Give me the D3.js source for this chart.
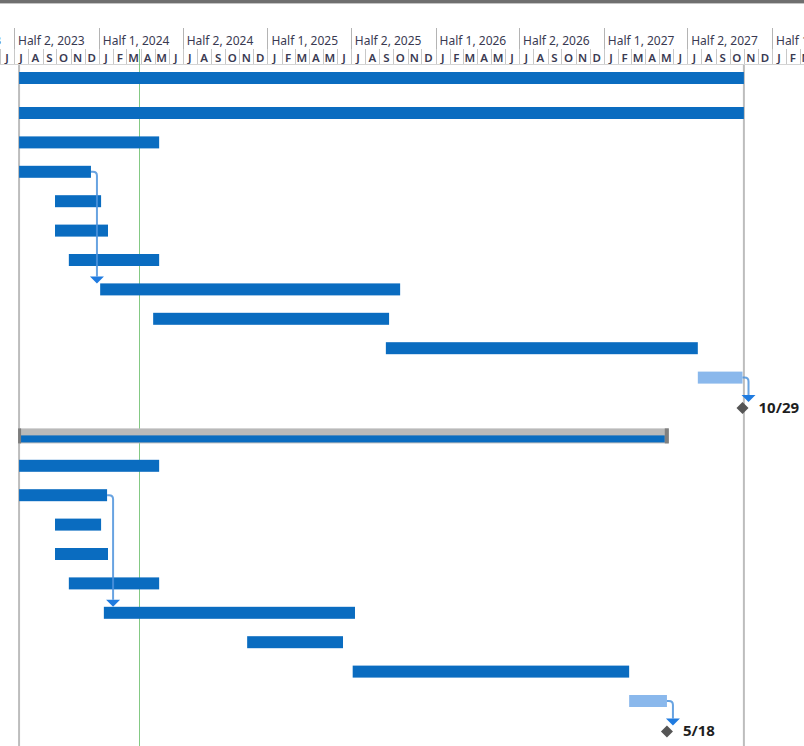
<!DOCTYPE html>
<html>
<head>
<meta charset="utf-8">
<script src="https://cdn.jsdelivr.net/npm/d3@7/dist/d3.min.js"></script>
<style>
  html, body { margin: 0; padding: 0; background: #fff; }
  svg { display: block; }
</style>
</head>
<body>
<svg id="chart" width="804" height="746"></svg>
<script>
// ---------------- DATA ----------------
const taskIds   = [1,2,3,4,5,6,7,8,9,10,11,12,13,14,15,16,17,18,19,20,21,22,23];
const taskType  = ["task","task","task","task","task","task","task","task","task","task","future","milestone",
                   "summary","task","task","task","task","task","task","task","task","future","milestone"];
const taskStart = ["2023-07-12","2023-07-12","2023-07-12","2023-07-12","2023-09-28","2023-09-28","2023-10-28",
                   "2024-01-04","2024-04-28","2025-09-15","2027-07-24","2027-10-29",
                   "2023-07-12","2023-07-12","2023-07-12","2023-09-28","2023-09-28","2023-10-28",
                   "2024-01-12","2024-11-18","2025-07-05","2027-02-25","2027-05-18"];
const taskFinish= ["2027-11-01","2027-11-01","2024-05-11","2023-12-15","2024-01-06","2024-01-21","2024-05-11",
                   "2025-10-16","2025-09-22","2027-07-24","2027-10-29","2027-10-29",
                   "2027-05-22","2024-05-11","2024-01-19","2024-01-06","2024-01-21","2024-05-11",
                   "2025-07-10","2025-06-14","2027-02-25","2027-05-18","2027-05-18"];
const milestoneLabels = {11: "10/29", 22: "5/18"};
// dependency links: [from row index, to row index]
const links = [[3, 7], [10, 11], [14, 18], [21, 22]];
const statusDate   = "2024-03-28";
const projectLines = ["2023-07-12", "2027-11-01"];
const monthLetters = ["J","F","M","A","M","J","J","A","S","O","N","D"];
const headerFrom = "2023-01-01", headerTo = "2028-07-01";

// ---------------- LAYOUT ----------------
const W = 804, H = 746;
const parse = d3.utcParse("%Y-%m-%d");
const x = d3.scaleUtc().domain([parse("2023-07-01"), parse("2028-01-01")]).range([14, 772]);
const rowScale = d3.scaleLinear().domain([1, 22]).range([113, 730.4]);
const rowY = i => i === 0 ? 78 : rowScale(i);
const barH = 12;

const BLUE = "#0a6cc0", LIGHT = "#8ab8ec", LINK = "#4d93dc", ARROW = "#1f7be0";

const svg = d3.select("#chart");
const font = "'Noto Sans', 'Open Sans', sans-serif";

// ---------------- HEADER ----------------
svg.append("rect").attr("x", 0).attr("y", 0).attr("width", W).attr("height", 3).attr("fill", "#6f6f6f");
svg.append("rect").attr("x", 0).attr("y", 3).attr("width", W).attr("height", 1).attr("fill", "#c4c4c4");

const months = d3.utcMonth.range(parse(headerFrom), parse(headerTo));
const halves = months.filter(d => d.getUTCMonth() % 6 === 0);

const hdr = svg.append("g");
// half-year tier
hdr.selectAll("line.half").data(halves).join("line")
  .attr("x1", d => Math.round(x(d)) + 0.5).attr("x2", d => Math.round(x(d)) + 0.5)
  .attr("y1", 28).attr("y2", 49).attr("stroke", "#b4b4b4").attr("stroke-width", 1);
hdr.selectAll("text.half").data(halves).join("text")
  .attr("x", d => x(d) + 4).attr("y", 45)
  .attr("font-family", font).attr("font-size", 12).attr("fill", "#3a3a52")
  .text(d => `Half ${d.getUTCMonth() < 6 ? 1 : 2}, ${d.getUTCFullYear()}`);
// month tier
hdr.selectAll("line.month").data(months).join("line")
  .attr("x1", d => Math.round(x(d)) + 0.5).attr("x2", d => Math.round(x(d)) + 0.5)
  .attr("y1", 49).attr("y2", 64).attr("stroke", "#c8c8c8").attr("stroke-width", 1);
hdr.selectAll("text.month").data(months).join("text")
  .attr("x", d => (x(d) + x(d3.utcMonth.offset(d, 1))) / 2).attr("y", 61.5)
  .attr("text-anchor", "middle")
  .attr("font-family", font).attr("font-size", 11.5).attr("font-weight", 600).attr("fill", "#3a3a52")
  .text(d => monthLetters[d.getUTCMonth()]);
svg.append("line").attr("x1", 0).attr("x2", W).attr("y1", 64.5).attr("y2", 64.5)
  .attr("stroke", "#d4d4d4");

// ---------------- VERTICAL LINES ----------------
svg.selectAll("line.proj").data(projectLines).join("line")
  .attr("x1", d => x(parse(d))).attr("x2", d => x(parse(d)))
  .attr("y1", 65).attr("y2", H).attr("stroke", "#bdbdbd").attr("stroke-width", 2);
svg.append("line")
  .attr("x1", Math.round(x(parse(statusDate))) + 0.5).attr("x2", Math.round(x(parse(statusDate))) + 0.5)
  .attr("y1", 49).attr("y2", H).attr("stroke", "#5cb85c").attr("stroke-width", 1).attr("opacity", 0.75);

// ---------------- BARS ----------------
const rows = taskIds.map((id, i) => ({
  i, type: taskType[i], s: parse(taskStart[i]), f: parse(taskFinish[i])
}));

const g = svg.append("g");
rows.filter(r => r.type === "task" || r.type === "future").forEach(r => {
  g.append("rect")
    .attr("x", x(r.s)).attr("y", rowY(r.i) - barH / 2)
    .attr("width", x(r.f) - x(r.s)).attr("height", barH)
    .attr("fill", r.type === "task" ? BLUE : LIGHT);
});
rows.filter(r => r.type === "summary").forEach(r => {
  const y0 = rowY(r.i);
  g.append("rect").attr("x", x(r.s)).attr("y", y0 - 8)
    .attr("width", x(r.f) - x(r.s)).attr("height", 15).attr("fill", "#b9b9b9");
  g.append("rect").attr("x", x(r.s)).attr("y", y0 - 1)
    .attr("width", x(r.f) - x(r.s) - 4).attr("height", 7).attr("fill", BLUE);
  g.append("rect").attr("x", x(r.s) - 1).attr("y", y0 - 8).attr("width", 3).attr("height", 15).attr("fill", "#7d7d7d");
  g.append("rect").attr("x", x(r.f) - 4).attr("y", y0 - 8).attr("width", 4).attr("height", 15).attr("fill", "#808080");
});

// ---------------- LINKS ----------------
links.forEach(([a, b]) => {
  const src = rows[a], dst = rows[b];
  const sx = x(src.f), sy = rowY(src.i);
  const vx = sx + 6;
  const ty = dst.type === "milestone" ? rowY(dst.i) - 12 : rowY(dst.i) - barH / 2 - 7;
  const r = 4;
  g.append("path")
    .attr("d", `M${sx},${sy} H${vx - r} Q${vx},${sy} ${vx},${sy + r} V${ty}`)
    .attr("fill", "none").attr("stroke", LINK).attr("stroke-width", 2).attr("opacity", 0.85);
  g.append("path")
    .attr("d", `M${vx - 7},${ty} L${vx + 7},${ty} L${vx},${ty + 7} Z`)
    .attr("fill", ARROW);
});

// ---------------- MILESTONES ----------------
rows.filter(r => r.type === "milestone").forEach(r => {
  const cx = x(r.f), cy = rowY(r.i) + 1;
  g.append("path")
    .attr("d", `M${cx},${cy - 6} L${cx + 6},${cy} L${cx},${cy + 6} L${cx - 6},${cy} Z`)
    .attr("fill", "#555");
  g.append("text")
    .attr("x", cx + 16).attr("y", cy + 5)
    .attr("font-family", font).attr("font-size", 15).attr("font-weight", 700).attr("fill", "#1e1e1e")
    .text(milestoneLabels[r.i]);
});
</script>
</body>
</html>
